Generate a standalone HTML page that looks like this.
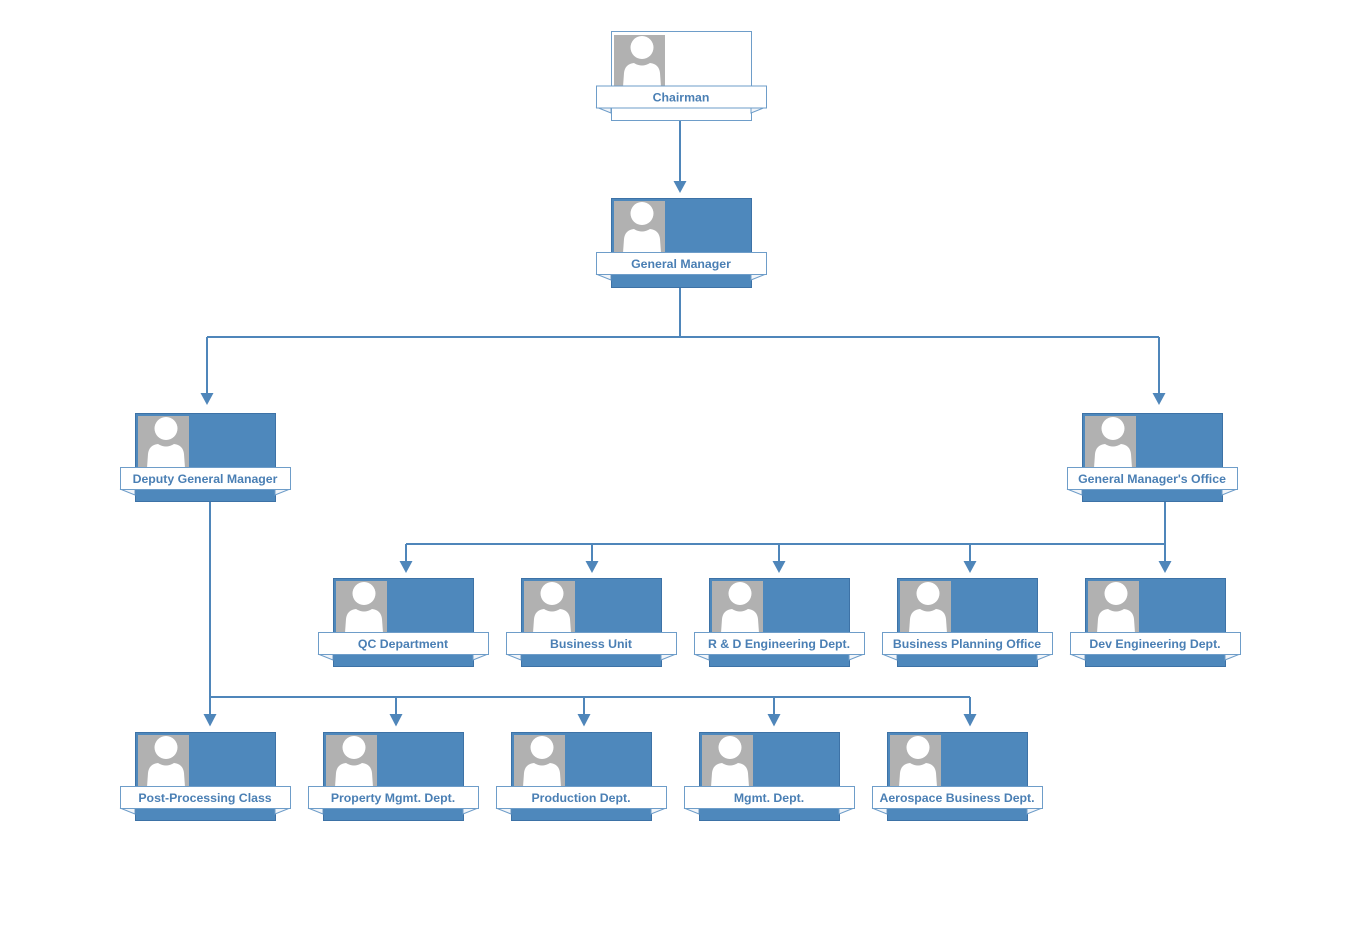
<!DOCTYPE html>
<html><head><meta charset="utf-8"><style>
html,body{margin:0;padding:0;background:#fff;}
svg{display:block;}
text{font-family:"Liberation Sans",sans-serif;font-weight:bold;font-size:12.3px;fill:#4a7fb4;text-anchor:middle;}
</style></head><body>
<svg width="1360" height="935" viewBox="0 0 1360 935" xmlns="http://www.w3.org/2000/svg">
<defs>
  <g id="ph">
    <rect x="0" y="0" width="51" height="51" fill="#b1b1b1"/>
    <circle cx="28" cy="12.5" r="11.5" fill="#fff"/>
    <path d="M9 52 L10 38 Q11 29 20 28 Q28 33 36 28 Q45 29 46 38 L47 52 Z" fill="#fff"/>
  </g>
  <g id="folds">
    <polygon points="-15,76 0,76 0,82" fill="#f2f5f9" stroke="#6e9dc9" stroke-width="1"/>
    <polygon points="155,76 140,76 140,82" fill="#f2f5f9" stroke="#6e9dc9" stroke-width="1"/>
  </g>
</defs>

<!-- connectors -->
<g stroke="#4f86ba" stroke-width="2" fill="none">
  <path d="M680 121 V182"/>
  <path d="M680 287 V337 M207 337 H1159 M207 337 V394 M1159 337 V394"/>
  <path d="M210 501 V715 M210 697 H970 M396 697 V715 M584 697 V715 M774 697 V715 M970 697 V715"/>
  <path d="M1165 501 V562 M406 544 H1165 M406 544 V562 M592 544 V562 M779 544 V562 M970 544 V562"/>
</g>
<g fill="#4f86ba">
  <polygon points="673.5,181 686.5,181 680,193"/>
  <polygon points="200.5,393 213.5,393 207,405"/>
  <polygon points="1152.5,393 1165.5,393 1159,405"/>
  <polygon points="203.5,714 216.5,714 210,726.5"/>
  <polygon points="389.5,714 402.5,714 396,726.5"/>
  <polygon points="577.5,714 590.5,714 584,726.5"/>
  <polygon points="767.5,714 780.5,714 774,726.5"/>
  <polygon points="963.5,714 976.5,714 970,726.5"/>
  <polygon points="399.5,561 412.5,561 406,573"/>
  <polygon points="585.5,561 598.5,561 592,573"/>
  <polygon points="772.5,561 785.5,561 779,573"/>
  <polygon points="963.5,561 976.5,561 970,573"/>
  <polygon points="1158.5,561 1171.5,561 1165,573"/>
</g>

<!-- Chairman (white) -->
<g transform="translate(611,31)">
  <rect x="0.5" y="0.5" width="140" height="89" fill="#fff" stroke="#6e9dc9" stroke-width="1"/>
  <use href="#ph" x="3" y="4"/>
  <use href="#folds"/>
  <rect x="-14.5" y="55" width="170" height="22" fill="#fff" stroke="#6e9dc9" stroke-width="1"/>
  <text x="70" y="70.5">Chairman</text>
</g>

<!-- filled cards -->
<g id="cards">
  <g transform="translate(611,198)">
    <rect x="0.5" y="0.5" width="140" height="89" fill="#4e88bc" stroke="#3d72a6"/>
    <use href="#ph" x="3" y="3"/><use href="#folds"/>
    <rect x="-14.5" y="54.5" width="170" height="22" fill="#fff" stroke="#6e9dc9"/>
    <text x="70" y="70">General Manager</text>
  </g>
  <g transform="translate(135,413)">
    <rect x="0.5" y="0.5" width="140" height="88" fill="#4e88bc" stroke="#3d72a6"/>
    <use href="#ph" x="3" y="3"/><use href="#folds"/>
    <rect x="-14.5" y="54.5" width="170" height="22" fill="#fff" stroke="#6e9dc9"/>
    <text x="70" y="70">Deputy General Manager</text>
  </g>
  <g transform="translate(1082,413)">
    <rect x="0.5" y="0.5" width="140" height="88" fill="#4e88bc" stroke="#3d72a6"/>
    <use href="#ph" x="3" y="3"/><use href="#folds"/>
    <rect x="-14.5" y="54.5" width="170" height="22" fill="#fff" stroke="#6e9dc9"/>
    <text x="70" y="70">General Manager's Office</text>
  </g>

  <g transform="translate(333,578)">
    <rect x="0.5" y="0.5" width="140" height="88" fill="#4e88bc" stroke="#3d72a6"/>
    <use href="#ph" x="3" y="3"/><use href="#folds"/>
    <rect x="-14.5" y="54.5" width="170" height="22" fill="#fff" stroke="#6e9dc9"/>
    <text x="70" y="70">QC Department</text>
  </g>
  <g transform="translate(521,578)">
    <rect x="0.5" y="0.5" width="140" height="88" fill="#4e88bc" stroke="#3d72a6"/>
    <use href="#ph" x="3" y="3"/><use href="#folds"/>
    <rect x="-14.5" y="54.5" width="170" height="22" fill="#fff" stroke="#6e9dc9"/>
    <text x="70" y="70">Business Unit</text>
  </g>
  <g transform="translate(709,578)">
    <rect x="0.5" y="0.5" width="140" height="88" fill="#4e88bc" stroke="#3d72a6"/>
    <use href="#ph" x="3" y="3"/><use href="#folds"/>
    <rect x="-14.5" y="54.5" width="170" height="22" fill="#fff" stroke="#6e9dc9"/>
    <text x="70" y="70">R &amp; D Engineering Dept.</text>
  </g>
  <g transform="translate(897,578)">
    <rect x="0.5" y="0.5" width="140" height="88" fill="#4e88bc" stroke="#3d72a6"/>
    <use href="#ph" x="3" y="3"/><use href="#folds"/>
    <rect x="-14.5" y="54.5" width="170" height="22" fill="#fff" stroke="#6e9dc9"/>
    <text x="70" y="70">Business Planning Office</text>
  </g>
  <g transform="translate(1085,578)">
    <rect x="0.5" y="0.5" width="140" height="88" fill="#4e88bc" stroke="#3d72a6"/>
    <use href="#ph" x="3" y="3"/><use href="#folds"/>
    <rect x="-14.5" y="54.5" width="170" height="22" fill="#fff" stroke="#6e9dc9"/>
    <text x="70" y="70">Dev Engineering Dept.</text>
  </g>

  <g transform="translate(135,732)">
    <rect x="0.5" y="0.5" width="140" height="88" fill="#4e88bc" stroke="#3d72a6"/>
    <use href="#ph" x="3" y="3"/><use href="#folds"/>
    <rect x="-14.5" y="54.5" width="170" height="22" fill="#fff" stroke="#6e9dc9"/>
    <text x="70" y="70">Post-Processing Class</text>
  </g>
  <g transform="translate(323,732)">
    <rect x="0.5" y="0.5" width="140" height="88" fill="#4e88bc" stroke="#3d72a6"/>
    <use href="#ph" x="3" y="3"/><use href="#folds"/>
    <rect x="-14.5" y="54.5" width="170" height="22" fill="#fff" stroke="#6e9dc9"/>
    <text x="70" y="70">Property Mgmt. Dept.</text>
  </g>
  <g transform="translate(511,732)">
    <rect x="0.5" y="0.5" width="140" height="88" fill="#4e88bc" stroke="#3d72a6"/>
    <use href="#ph" x="3" y="3"/><use href="#folds"/>
    <rect x="-14.5" y="54.5" width="170" height="22" fill="#fff" stroke="#6e9dc9"/>
    <text x="70" y="70">Production Dept.</text>
  </g>
  <g transform="translate(699,732)">
    <rect x="0.5" y="0.5" width="140" height="88" fill="#4e88bc" stroke="#3d72a6"/>
    <use href="#ph" x="3" y="3"/><use href="#folds"/>
    <rect x="-14.5" y="54.5" width="170" height="22" fill="#fff" stroke="#6e9dc9"/>
    <text x="70" y="70">Mgmt. Dept.</text>
  </g>
  <g transform="translate(887,732)">
    <rect x="0.5" y="0.5" width="140" height="88" fill="#4e88bc" stroke="#3d72a6"/>
    <use href="#ph" x="3" y="3"/><use href="#folds"/>
    <rect x="-14.5" y="54.5" width="170" height="22" fill="#fff" stroke="#6e9dc9"/>
    <text x="70" y="70">Aerospace Business Dept.</text>
  </g>
</g>
</svg>
</body></html>
